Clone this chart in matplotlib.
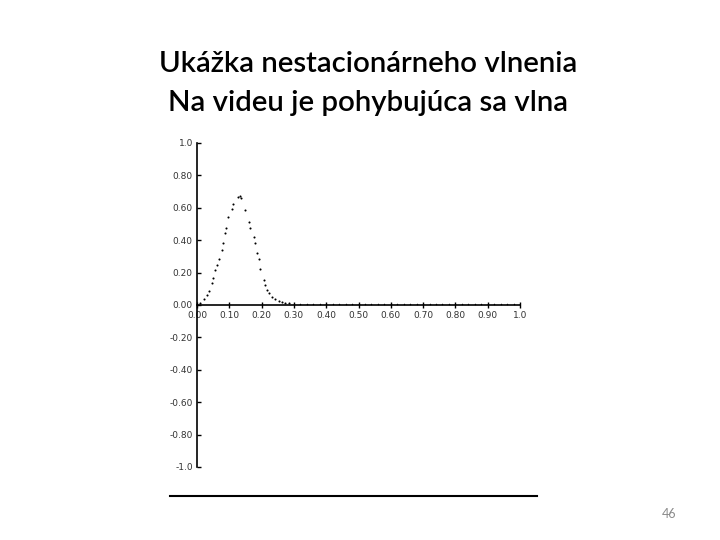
import matplotlib
matplotlib.use("Agg")
import matplotlib.pyplot as plt
from matplotlib.lines import Line2D

wave_x = [0.010, 0.023, 0.031, 0.038, 0.045, 0.050, 0.056, 0.062, 0.067, 0.077,
          0.079, 0.087, 0.090, 0.096, 0.107, 0.112, 0.127, 0.132, 0.137, 0.148,
          0.160, 0.165, 0.175, 0.181, 0.186, 0.191, 0.194, 0.206, 0.211, 0.217,
          0.223, 0.232, 0.243, 0.253, 0.263, 0.273, 0.284]
wave_y = [0.014, 0.035, 0.062, 0.088, 0.134, 0.165, 0.216, 0.247, 0.284, 0.340,
          0.385, 0.447, 0.473, 0.541, 0.591, 0.621, 0.669, 0.673, 0.658, 0.586,
          0.510, 0.477, 0.422, 0.385, 0.323, 0.282, 0.220, 0.154, 0.123, 0.093,
          0.072, 0.047, 0.035, 0.025, 0.016, 0.010, 0.010]

# flat tail of the wave (dots lying on the axis)
tail_x = [0.30, 0.32, 0.34, 0.36, 0.38, 0.40, 0.42, 0.44, 0.46, 0.48, 0.50,
          0.52, 0.54, 0.56, 0.58, 0.60, 0.62, 0.64, 0.66, 0.68, 0.70, 0.72,
          0.74, 0.76, 0.78, 0.80, 0.82, 0.84, 0.86, 0.88, 0.90, 0.92, 0.94,
          0.96, 0.98, 1.00]
tail_y = [0.006] * len(tail_x)

x_ticks = [0.0, 0.1, 0.2, 0.3, 0.4, 0.5, 0.6, 0.7, 0.8, 0.9, 1.0]
x_labels = ["0.00", "0.10", "0.20", "0.30", "0.40", "0.50",
            "0.60", "0.70", "0.80", "0.90", "1.0"]
y_ticks = [1.0, 0.8, 0.6, 0.4, 0.2, 0.0, -0.2, -0.4, -0.6, -0.8, -1.0]
y_labels = ["1.0", "0.80", "0.60", "0.40", "0.20", "0.00",
            "-0.20", "-0.40", "-0.60", "-0.80", "-1.0"]

title_1 = "Ukážka nestacionárneho vlnenia"
title_2 = "Na videu je pohybujúca sa vlna"
page_no = "46"

W, H = 720, 540
fig = plt.figure(figsize=(7.2, 5.4), dpi=100)
fig.patch.set_facecolor("white")

# ── Title lines ────────────────────────────────────────────────────────────
for txt, base in [(title_1, 71.5), (title_2, 111.5)]:
    fig.text(368 / W, 1 - base / H, txt, ha="center", va="baseline",
             fontsize=21.2, family="Lato", fontweight="semibold", color="black")

fig.text(669 / W, 1 - 518 / H, page_no, ha="center", va="baseline",
         fontsize=9, family="Lato", color="#8a8a8a")

# ── Embedded plot ──────────────────────────────────────────────────────────
ax = fig.add_axes([197 / W, 1 - 467 / H, 323 / W, 324 / H])
ax.set_facecolor("none")
ax.plot(wave_x, wave_y, ls="none", marker="o", ms=1.5, color="black", mew=0)
ax.plot(tail_x, tail_y, ls="none", marker="o", ms=1.1, color="black", mew=0)

ax.set_xlim(0, 1.0)
ax.set_ylim(-1.0, 1.0)
ax.spines["right"].set_visible(False)
ax.spines["top"].set_visible(False)
ax.spines["bottom"].set_position("zero")
ax.spines["left"].set_linewidth(1.2)
ax.spines["bottom"].set_linewidth(1.2)

ax.set_xticks(x_ticks)
ax.set_xticklabels(x_labels)
ax.set_yticks(y_ticks)
ax.set_yticklabels(y_labels)
ax.tick_params(axis="y", direction="in", length=3, width=1, pad=3,
               labelsize=6.5, labelcolor="#333333")
ax.tick_params(axis="x", direction="inout", length=4, width=1, pad=2,
               labelsize=6.5, labelcolor="#333333")

# rule under the embedded picture
fig.add_artist(Line2D([170 / W, 537 / W], [1 - 496 / H, 1 - 496 / H],
                      color="black", lw=1.5))

fig.savefig("out.png", dpi=100)
